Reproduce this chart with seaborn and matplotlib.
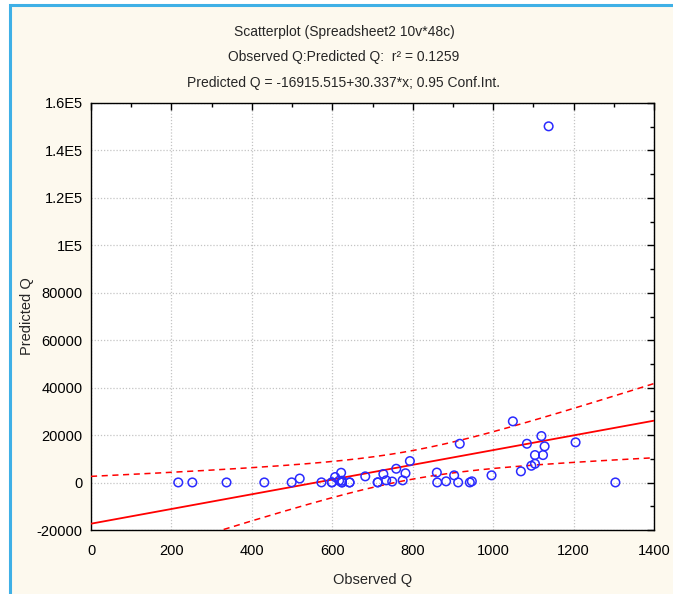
# === 0. IMPORT LIBRARIES ===
import numpy as np
import pandas as pd
import seaborn as sns
import matplotlib.pyplot as plt
from matplotlib.patches import Rectangle
from matplotlib.ticker import MultipleLocator, FuncFormatter

# === 1. DATA (read off the reference scatterplot) ===
# last five pairs sit under other circles in the dense cluster near zero
observed_q = [217, 252, 337, 431, 499, 519, 573, 599, 607, 622, 617, 624,
              643, 682, 713, 727, 734, 749, 759, 775, 782, 793, 860, 861,
              883, 903, 913, 917, 942, 947, 996, 1049, 1069, 1084, 1095,
              1104, 1104, 1120, 1124, 1128, 1205, 1304, 1138,
              624, 599, 713, 643, 624]
predicted_q = [50, 50, 50, 50, 80, 1690, 80, 80, 2320, 4130, 760, 50,
               50, 2610, 80, 3580, 930, 420, 5820, 930, 3920, 9060, 4220, 50,
               510, 3040, 50, 16360, 50, 510, 3040, 25800, 4720, 16360, 7080,
               11590, 7930, 19600, 11590, 15260, 16950, 50, 150170,
               50, 80, 80, 50, 760]

title_lines = ["Scatterplot (Spreadsheet2 10v*48c)",
               "Observed Q:Predicted Q:  r² = 0.1259",
               "Predicted Q = -16915.515+30.337*x; 0.95 Conf.Int."]

df = pd.DataFrame({"Observed Q": observed_q, "Predicted Q": predicted_q})

# === 2. STYLE ===
sns.set_style("white")
plt.rcParams['font.family'] = ['Liberation Sans', 'DejaVu Sans']
plt.rcParams['font.size'] = 10

fig = plt.figure(figsize=(6.73, 5.94), dpi=100, facecolor='white')
# cream panel with the blue window edge on left / top
fig.patches.append(Rectangle((9.5 / 673, -0.05), 1.1, 1.05 - 5 / 594,
                             transform=fig.transFigure, facecolor='#fdf9ee',
                             edgecolor='#3fb0e6', lw=2.2, zorder=-10))
ax = fig.add_axes([91 / 673, 1 - 530 / 594, 563 / 673, 427 / 594])
ax.set_facecolor('white')

ax.set_xlim(0, 1400)
ax.set_ylim(-20000, 160000)

# === 3. PLOT: points, fit line, 0.95 confidence band ===
sns.scatterplot(data=df, x="Observed Q", y="Predicted Q", ax=ax,
                marker='o', s=38, facecolor='none', edgecolor='#2a2aff',
                linewidth=1.1, zorder=4)
sns.regplot(data=df, x="Observed Q", y="Predicted Q", ax=ax, scatter=False,
            ci=None, truncate=False, line_kws=dict(color='red', lw=1.3, zorder=3))

x = np.asarray(observed_q, dtype=float)
y = np.asarray(predicted_q, dtype=float)
n = len(x)
b, a = np.polyfit(x, y, 1)
resid = y - (a + b * x)
s = np.sqrt(np.sum(resid ** 2) / (n - 2))
sxx = np.sum((x - x.mean()) ** 2)
t_val = 2.013
xs = np.linspace(0, 1400, 200)
half = t_val * s * np.sqrt(1 / n + (xs - x.mean()) ** 2 / sxx)
for sign in (1, -1):
    ax.plot(xs, a + b * xs + sign * half, color='red', ls=(0, (4, 3)), lw=1.1, zorder=3)

# === 4. AXES, TICKS, GRID ===
ax.xaxis.set_major_locator(MultipleLocator(200))
ax.xaxis.set_minor_locator(MultipleLocator(100))
ax.yaxis.set_major_locator(MultipleLocator(20000))
ax.yaxis.set_minor_locator(MultipleLocator(10000))


def y_fmt(v, pos):
    if abs(v) >= 100000:
        return f"{v / 1e5:g}E5"
    return f"{v:.0f}"


ax.yaxis.set_major_formatter(FuncFormatter(y_fmt))
ax.tick_params(which='both', direction='in', top=True, right=True,
               colors='black', labelsize=10.5)
ax.tick_params(which='major', length=5, width=1)
ax.tick_params(which='minor', length=3, width=1)
ax.tick_params(axis='x', pad=10)
ax.tick_params(axis='y', pad=6)
ax.grid(True, which='major', linestyle=(0, (1, 1.5)), color='#c4c4c4', lw=0.9)
ax.set_axisbelow(True)
for sp in ax.spines.values():
    sp.set_color('black')
    sp.set_linewidth(1.0)

ax.set_xlabel("Observed Q", fontsize=10.5, labelpad=11)
ax.set_ylabel("Predicted Q", fontsize=10.5, labelpad=2)

# === 5. TITLE LINES ===
for yy, line in zip([32, 57, 83], title_lines):
    fig.text(0.511, 1 - yy / 594, line, ha='center', va='center', fontsize=10)

plt.savefig("out.png", dpi=100, facecolor=fig.get_facecolor())
